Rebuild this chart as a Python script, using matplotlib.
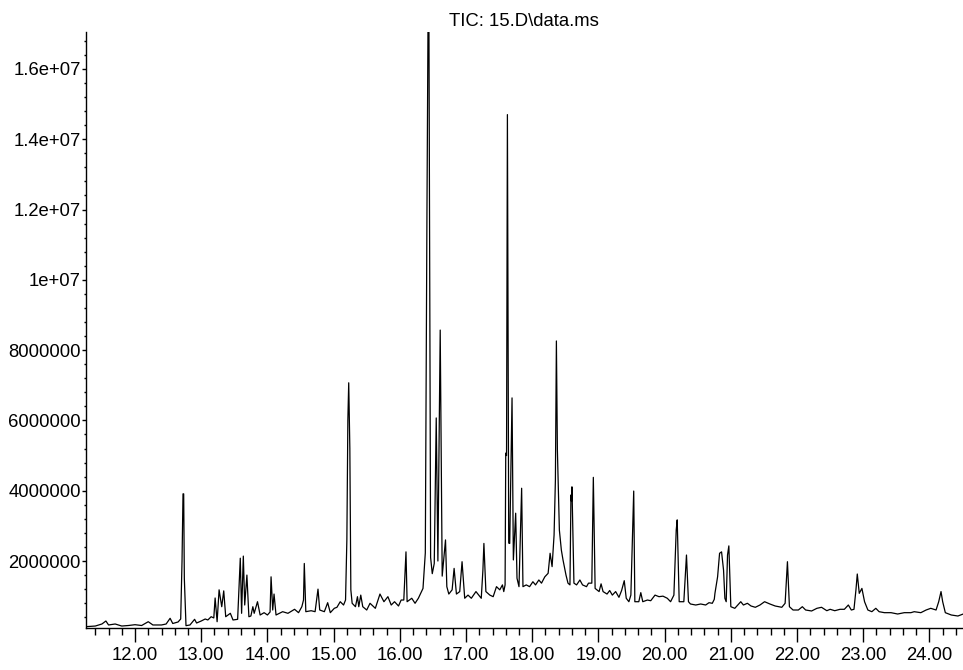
import matplotlib
matplotlib.use("Agg")
import matplotlib.pyplot as plt
from matplotlib.ticker import MultipleLocator, FixedLocator, FixedFormatter

# Retention time (min) and TIC abundance
rt_min = [
    11.25, 11.40, 11.50, 11.56, 11.60, 11.70, 11.80, 11.90, 12.00, 12.10,
    12.20, 12.27, 12.40, 12.47, 12.53, 12.57, 12.65, 12.69, 12.71, 12.725,
    12.735, 12.745, 12.77, 12.83, 12.90, 12.93, 13.00, 13.06, 13.10, 13.15,
    13.19, 13.21, 13.24, 13.27, 13.31, 13.34, 13.37, 13.44, 13.48, 13.55,
    13.59, 13.61, 13.636, 13.657, 13.69, 13.72, 13.75, 13.78, 13.80, 13.85,
    13.89, 13.95, 14.00, 14.04, 14.055, 14.08, 14.10, 14.13, 14.23, 14.31,
    14.41, 14.47, 14.52, 14.545, 14.557, 14.58, 14.66, 14.72, 14.764, 14.79,
    14.86, 14.91, 14.95, 15.01, 15.05, 15.10, 15.15, 15.18, 15.20, 15.215,
    15.228, 15.245, 15.26, 15.28, 15.33, 15.36, 15.38, 15.41, 15.44, 15.50,
    15.55, 15.63, 15.70, 15.76, 15.82, 15.87, 15.92, 15.98, 16.02, 16.06,
    16.08, 16.093, 16.11, 16.18, 16.23, 16.28, 16.35, 16.385, 16.41, 16.425,
    16.44, 16.465, 16.49, 16.52, 16.55, 16.575, 16.61, 16.64, 16.69, 16.71,
    16.74, 16.79, 16.82, 16.855, 16.905, 16.94, 16.955, 16.98, 17.03, 17.08,
    17.15, 17.21, 17.23, 17.255, 17.27, 17.30, 17.36, 17.41, 17.46, 17.51,
    17.55, 17.57, 17.59, 17.60, 17.612, 17.625, 17.645, 17.66, 17.695, 17.715,
    17.75, 17.77, 17.80, 17.84, 17.86, 17.91, 17.96, 18.01, 18.05, 18.10,
    18.14, 18.19, 18.24, 18.27, 18.30, 18.33, 18.35, 18.365, 18.38, 18.41,
    18.44, 18.465, 18.51, 18.54, 18.57, 18.585, 18.593, 18.60, 18.63, 18.67,
    18.72, 18.76, 18.82, 18.85, 18.90, 18.923, 18.95, 19.01, 19.04, 19.07,
    19.13, 19.17, 19.21, 19.26, 19.31, 19.35, 19.39, 19.42, 19.46, 19.49,
    19.533, 19.55, 19.61, 19.64, 19.67, 19.74, 19.79, 19.855, 19.915, 19.975,
    20.04, 20.09, 20.14, 20.175, 20.19, 20.22, 20.29, 20.33, 20.36, 20.39,
    20.47, 20.545, 20.62, 20.67, 20.72, 20.75, 20.76, 20.80, 20.83, 20.86,
    20.89, 20.91, 20.93, 20.95, 20.97, 21.00, 21.06, 21.15, 21.19, 21.25,
    21.305, 21.37, 21.44, 21.51, 21.59, 21.67, 21.77, 21.82, 21.855, 21.885,
    21.94, 22.02, 22.08, 22.13, 22.22, 22.30, 22.37, 22.45, 22.50, 22.57,
    22.65, 22.715, 22.775, 22.82, 22.86, 22.89, 22.91, 22.94, 22.98, 23.02,
    23.07, 23.13, 23.19, 23.24, 23.32, 23.42, 23.52, 23.62, 23.72, 23.77,
    23.87, 23.95, 24.02, 24.10, 24.14, 24.175, 24.20, 24.24, 24.33, 24.43,
    24.51,
]

tic_abundance = [
    131000, 150000, 208000, 293000, 180000, 208000, 150000, 165000, 188000, 165000,
    273000, 180000, 180000, 208000, 370000, 222000, 265000, 350000, 2000000, 3910000,
    3910000, 1500000, 160000, 180000, 341000, 236000, 293000, 350000, 322000, 415000,
    380000, 948000, 273000, 1180000, 700000, 1150000, 415000, 512000, 322000, 341000,
    2080000, 512000, 2140000, 748000, 1600000, 415000, 435000, 700000, 512000, 842000,
    464000, 530000, 464000, 549000, 1550000, 606000, 1060000, 464000, 558000, 512000,
    626000, 530000, 700000, 890000, 1930000, 558000, 586000, 558000, 1200000, 606000,
    558000, 814000, 530000, 654000, 683000, 842000, 748000, 890000, 2600000, 6000000,
    7070000, 5200000, 1180000, 797000, 700000, 985000, 700000, 1030000, 700000, 606000,
    797000, 654000, 1060000, 842000, 985000, 748000, 842000, 720000, 890000, 890000,
    1740000, 2260000, 842000, 940000, 797000, 940000, 1220000, 2230000, 12000000, 17050000,
    17050000, 2100000, 1640000, 1930000, 6070000, 2000000, 8570000, 1570000, 2600000, 1270000,
    1060000, 1180000, 1790000, 1060000, 1130000, 1980000, 1600000, 940000, 1030000, 940000,
    1130000, 985000, 940000, 1740000, 2500000, 1130000, 1030000, 985000, 1270000, 1180000,
    1320000, 1130000, 1320000, 5070000, 5000000, 14700000, 2510000, 2500000, 6640000, 2030000,
    3360000, 1510000, 1270000, 4070000, 1270000, 1320000, 1270000, 1410000, 1320000, 1460000,
    1370000, 1550000, 1650000, 2220000, 1840000, 2740000, 4300000, 8260000, 5160000, 2880000,
    2310000, 2030000, 1600000, 1370000, 1320000, 3880000, 3700000, 4110000, 1370000, 1320000,
    1460000, 1320000, 1270000, 1370000, 1370000, 4380000, 1220000, 1130000, 1350000, 1130000,
    1060000, 1160000, 1030000, 1130000, 967000, 1160000, 1440000, 940000, 842000, 1030000,
    3990000, 842000, 842000, 1100000, 842000, 890000, 870000, 1030000, 985000, 1000000,
    940000, 842000, 1030000, 2880000, 3170000, 842000, 842000, 2170000, 842000, 777000,
    748000, 777000, 748000, 814000, 797000, 910000, 1080000, 1550000, 2220000, 2260000,
    1740000, 940000, 842000, 2170000, 2430000, 700000, 654000, 842000, 748000, 797000,
    720000, 683000, 748000, 842000, 777000, 720000, 683000, 797000, 1980000, 700000,
    606000, 606000, 700000, 606000, 578000, 654000, 683000, 586000, 626000, 586000,
    626000, 626000, 748000, 606000, 626000, 1180000, 1630000, 1080000, 1220000, 842000,
    606000, 558000, 654000, 558000, 530000, 530000, 492000, 530000, 530000, 558000,
    530000, 606000, 654000, 606000, 842000, 1130000, 842000, 530000, 464000, 435000,
    492000,
]

x_major = [12, 13, 14, 15, 16, 17, 18, 19, 20, 21, 22, 23, 24]
x_labels = ["12.00", "13.00", "14.00", "15.00", "16.00", "17.00", "18.00",
            "19.00", "20.00", "21.00", "22.00", "23.00", "24.00"]
y_major = [2e6, 4e6, 6e6, 8e6, 1e7, 1.2e7, 1.4e7, 1.6e7]
y_labels = ["2000000", "4000000", "6000000", "8000000", "1e+07",
            "1.2e+07", "1.4e+07", "1.6e+07"]
title = "TIC: 15.D\\data.ms"

plt.rcParams["font.family"] = ["Liberation Sans", "DejaVu Sans"]
fs = 13.3

fig = plt.figure(figsize=(9.63, 6.70), dpi=100)
ax = fig.add_axes([85.7 / 963, 1 - 628 / 670, 1 - 85.7 / 963, (628 - 32) / 670])
ax.plot(rt_min, tic_abundance, color="black", lw=0.9)

ax.set_xlim(11.255, 24.507)
ax.set_ylim(94000, 17050000)

for s in ["top", "right"]:
    ax.spines[s].set_visible(False)
for s in ["left", "bottom"]:
    ax.spines[s].set_linewidth(1.0)
    ax.spines[s].set_color("black")

ax.xaxis.set_major_locator(FixedLocator(x_major))
ax.xaxis.set_major_formatter(FixedFormatter(x_labels))
ax.xaxis.set_minor_locator(MultipleLocator(0.2))
ax.yaxis.set_major_locator(FixedLocator(y_major))
ax.yaxis.set_major_formatter(FixedFormatter(y_labels))
ax.yaxis.set_minor_locator(MultipleLocator(4e5))

ax.tick_params(axis="x", which="major", direction="out", length=10, width=1.0,
               pad=3.5, labelsize=fs)
ax.tick_params(axis="x", which="minor", direction="out", length=5, width=1.0)
ax.tick_params(axis="y", which="major", direction="out", length=3, width=1.0,
               pad=0.5, labelsize=fs)
ax.tick_params(axis="y", which="minor", direction="out", length=1.5, width=1.0)

ax.set_title(title, fontsize=fs, pad=4)

fig.savefig("out.png", dpi=100)
